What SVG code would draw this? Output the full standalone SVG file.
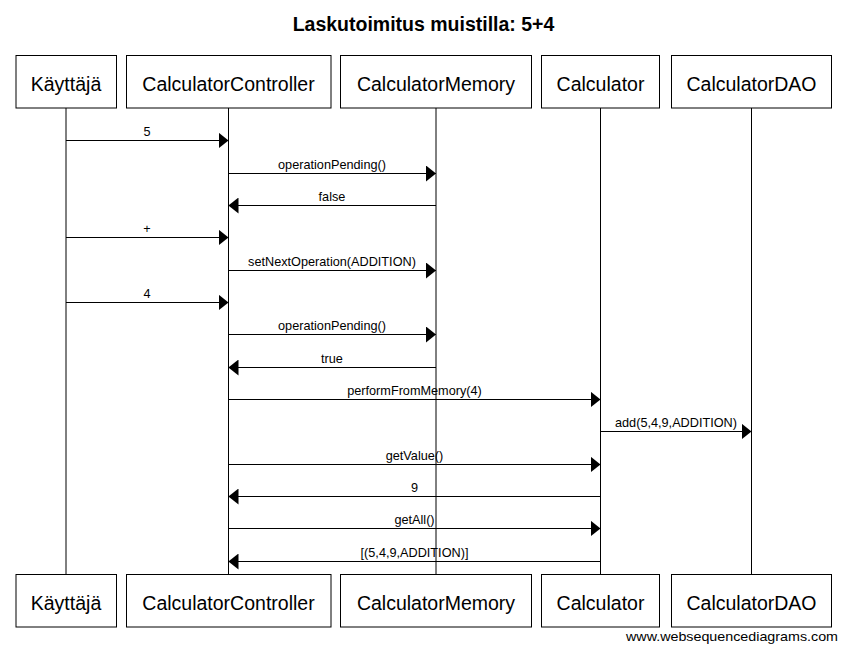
<svg xmlns="http://www.w3.org/2000/svg" width="846" height="652" viewBox="0 0 846 652">
<style>
.box{fill:#fff;stroke:#000;stroke-width:1}
.nt{font-family:"Liberation Sans",Arial,sans-serif;font-size:19.5px;text-anchor:middle;fill:#000}
.life{stroke:#000;stroke-width:1}
.msg{stroke:#000;stroke-width:1;fill:none}
.ml{font-family:"Liberation Sans",Arial,sans-serif;font-size:12.7px;text-anchor:middle;fill:#000}
.title{font-family:"Liberation Sans",Arial,sans-serif;font-size:19.5px;font-weight:bold;text-anchor:middle;fill:#000}
.wm{font-family:"Liberation Sans",Arial,sans-serif;font-size:13px;fill:#000}
</style>
<defs>
<marker id="ah" markerWidth="10" markerHeight="16" refX="10" refY="8" orient="auto" markerUnits="userSpaceOnUse">
<path d="M0,0 L10,8 L0,16 Z" fill="#000"/>
</marker>
</defs>
<rect width="846" height="652" fill="#fff"/>
<text class="title" x="423.5" y="31">Laskutoimitus muistilla: 5+4</text>
<g id="lifelines">
<line class="life" x1="66" y1="108" x2="66" y2="574"/>
<line class="life" x1="228.5" y1="108" x2="228.5" y2="574"/>
<line class="life" x1="436" y1="108" x2="436" y2="574"/>
<line class="life" x1="600.5" y1="108" x2="600.5" y2="574"/>
<line class="life" x1="751.5" y1="108" x2="751.5" y2="574"/>
</g>
<g id="node-kayttaja">
<rect class="box" x="16" y="55.5" width="100.5" height="52.5"/>
<text class="nt" x="66" y="90.5">Käyttäjä</text>
<rect class="box" x="16" y="574.5" width="100.5" height="52.5"/>
<text class="nt" x="66" y="609.5">Käyttäjä</text>
</g>
<g id="node-controller">
<rect class="box" x="126.5" y="55.5" width="204.5" height="52.5"/>
<text class="nt" x="228.5" y="90.5">CalculatorController</text>
<rect class="box" x="126.5" y="574.5" width="204.5" height="52.5"/>
<text class="nt" x="228.5" y="609.5">CalculatorController</text>
</g>
<g id="node-memory">
<rect class="box" x="340.5" y="55.5" width="191" height="52.5"/>
<text class="nt" x="436" y="90.5">CalculatorMemory</text>
<rect class="box" x="340.5" y="574.5" width="191" height="52.5"/>
<text class="nt" x="436" y="609.5">CalculatorMemory</text>
</g>
<g id="node-calculator">
<rect class="box" x="541.5" y="55.5" width="118" height="52.5"/>
<text class="nt" x="600.5" y="90.5">Calculator</text>
<rect class="box" x="541.5" y="574.5" width="118" height="52.5"/>
<text class="nt" x="600.5" y="609.5">Calculator</text>
</g>
<g id="node-dao">
<rect class="box" x="671.5" y="55.5" width="160" height="52.5"/>
<text class="nt" x="751.5" y="90.5">CalculatorDAO</text>
<rect class="box" x="671.5" y="574.5" width="160" height="52.5"/>
<text class="nt" x="751.5" y="609.5">CalculatorDAO</text>
</g>
<g id="connectors">
<line class="msg" x1="66" y1="140.5" x2="228.5" y2="140.5" marker-end="url(#ah)"/>
<text class="ml" x="147" y="136">5</text>
<line class="msg" x1="228.5" y1="173.5" x2="436" y2="173.5" marker-end="url(#ah)"/>
<text class="ml" x="332" y="169">operationPending()</text>
<line class="msg" x1="436" y1="205.5" x2="228.5" y2="205.5" marker-end="url(#ah)"/>
<text class="ml" x="332" y="201">false</text>
<line class="msg" x1="66" y1="237.5" x2="228.5" y2="237.5" marker-end="url(#ah)"/>
<text class="ml" x="147" y="233">+</text>
<line class="msg" x1="228.5" y1="270.5" x2="436" y2="270.5" marker-end="url(#ah)"/>
<text class="ml" x="332" y="266">setNextOperation(ADDITION)</text>
<line class="msg" x1="66" y1="302.5" x2="228.5" y2="302.5" marker-end="url(#ah)"/>
<text class="ml" x="147" y="298">4</text>
<line class="msg" x1="228.5" y1="334.5" x2="436" y2="334.5" marker-end="url(#ah)"/>
<text class="ml" x="332" y="330">operationPending()</text>
<line class="msg" x1="436" y1="367.5" x2="228.5" y2="367.5" marker-end="url(#ah)"/>
<text class="ml" x="332" y="363">true</text>
<line class="msg" x1="228.5" y1="399.5" x2="600.5" y2="399.5" marker-end="url(#ah)"/>
<text class="ml" x="414.5" y="395">performFromMemory(4)</text>
<line class="msg" x1="600.5" y1="431.5" x2="751.5" y2="431.5" marker-end="url(#ah)"/>
<text class="ml" x="676" y="427">add(5,4,9,ADDITION)</text>
<line class="msg" x1="228.5" y1="464.5" x2="600.5" y2="464.5" marker-end="url(#ah)"/>
<text class="ml" x="414.5" y="460">getValue()</text>
<line class="msg" x1="600.5" y1="496.5" x2="228.5" y2="496.5" marker-end="url(#ah)"/>
<text class="ml" x="414.5" y="492">9</text>
<line class="msg" x1="228.5" y1="528.5" x2="600.5" y2="528.5" marker-end="url(#ah)"/>
<text class="ml" x="414.5" y="524">getAll()</text>
<line class="msg" x1="600.5" y1="561.5" x2="228.5" y2="561.5" marker-end="url(#ah)"/>
<text class="ml" x="414.5" y="557">[(5,4,9,ADDITION)]</text>
</g>
<text class="wm" x="626" y="640.5" textLength="212" lengthAdjust="spacingAndGlyphs">www.websequencediagrams.com</text>
</svg>
